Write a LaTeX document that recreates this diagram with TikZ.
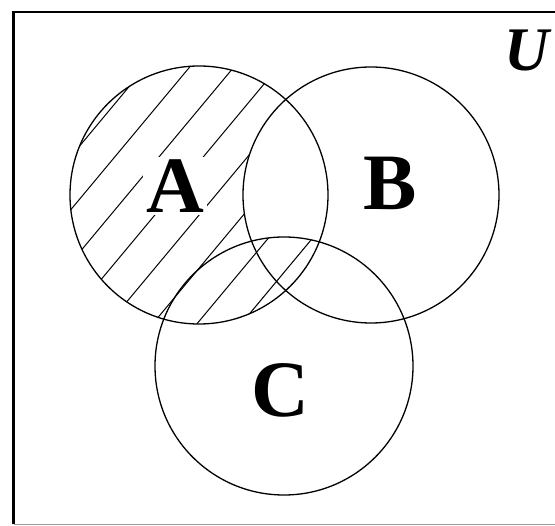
\documentclass[tikz,border=0pt]{standalone}
\usepackage{fontspec}
\setmainfont{Liberation Serif}
\begin{document}
\begin{tikzpicture}[x=1pt,y=-1pt,
  circ/.style={draw=black,line width=1.3pt},
  hatch/.style={draw=black,line width=1pt},
  lbl/.style={font=\fontsize{80}{80}\selectfont\bfseries,inner sep=0pt}]
\useasboundingbox (0,0) rectangle (555,526);
\clip (0,0) rectangle (555,526);
\def\Acirc{(199,195) circle (129)}
\def\Bcirc{(371,195) circle (128)}
\def\Ccirc{(284,366) circle (129)}
% hatch in A
\begin{scope}
  \clip \Acirc;
  \foreach \k in {-8,...,10}
    \draw[hatch] ({73.3+\k*34*0.768-300*0.64},{206.7+\k*34*0.64+300*0.768}) -- ({73.3+\k*34*0.768+300*0.64},{206.7+\k*34*0.64-300*0.768});
\end{scope}
% remove hatch from A and B
\begin{scope}
  \clip \Acirc;
  \fill[white] \Bcirc;
\end{scope}
% restore hatch in A, B and C
\begin{scope}
  \clip \Acirc;
  \clip \Bcirc;
  \clip \Ccirc;
  \foreach \k in {-8,...,10}
    \draw[hatch] ({73.3+\k*34*0.768-300*0.64},{206.7+\k*34*0.64+300*0.768}) -- ({73.3+\k*34*0.768+300*0.64},{206.7+\k*34*0.64-300*0.768});
\end{scope}
% labels (with white backgrounds as in reference gaps)
\node[lbl,fill=white,inner sep=3pt] (la) at (175,186) {A};
\node[lbl] (lb) at (390,183) {B};
\node[lbl] (lc) at (280,390) {C};
\node[font=\fontsize{62}{62}\selectfont\bfseries\itshape,inner sep=0pt] (lu) at (527,50) {U};
% circles
\draw[circ] \Acirc;
\draw[circ] \Bcirc;
\draw[circ] \Ccirc;
% universe
\draw[line width=2.2pt] (13.5,524.5) -- (13.5,12) -- (560,12);
\draw[line width=1pt,black!40] (13.5,525) -- (560,525);
\end{tikzpicture}
\end{document}
